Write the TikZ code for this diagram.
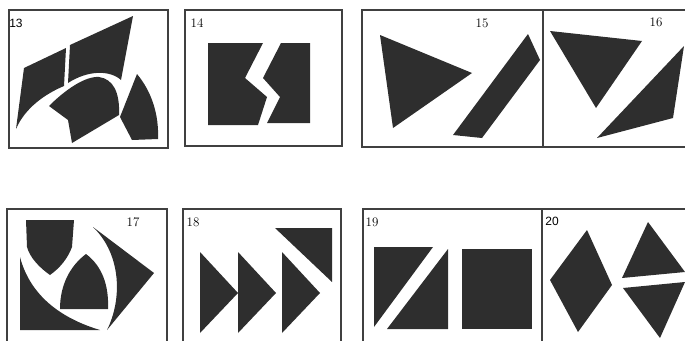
\documentclass[tikz,border=0pt]{standalone}
\usepackage{fontspec}
\newfontfamily\numsans{Liberation Sans}
\tikzset{
  frame/.style={draw=black!75, line width=1.4pt},
  piece/.style={fill=black!82},
  num/.style={inner sep=0pt, font=\fontsize{13}{13}\selectfont},
  numsf/.style={inner sep=0pt, font=\numsans\fontsize{12}{12}\selectfont}
}
\begin{document}
\begin{tikzpicture}[x=1pt, y=-1pt]
    \useasboundingbox (0,0) rectangle (685,340);
    \clip (0,0) rectangle (685,340);

    % 1. Rahmen oben und unten
    \draw[frame] (9,10) rectangle (168,148);
    \draw[frame] (185,10) rectangle (342,146);
    \draw[frame] (362,10) rectangle (700,147);
    \draw[frame] (543,10) -- (543,147);
    \draw[frame] (7,209) rectangle (167,350);
    \draw[frame] (183,209) rectangle (341,350);
    \draw[frame] (363,209) rectangle (700,350);
    \draw[frame] (542,209) -- (542,350);

    % 2. Nummern
    \node[numsf] (l13) at (16,23) {13};
    \node[num] (l14) at (197,23) {14};
    \node[num] (l15) at (482,23) {15};
    \node[num] (l16) at (656,22) {16};
    \node[num] (l17) at (133,222) {17};
    \node[num] (l18) at (193,222) {18};
    \node[num] (l19) at (372,222) {19};
    \node[numsf] (l20) at (552,221) {20};

    % 3. Figur 13 (Bogen schneidet die Teile)
    \fill[piece] (24,68) -- (66,48) -- (64,86)
        .. controls (45,94) and (25,108) .. (16,129) -- cycle;
    \fill[piece] (70,45) -- (133,16) -- (121,80)
        .. controls (110,70) and (88,70) .. (68,83) -- cycle;
    \fill[piece] (49,106) .. controls (65,90) and (85,76) .. (99,77)
        .. controls (113,79) and (120,92) .. (119,115)
        -- (72,143) -- (68,120) -- cycle;
    \fill[piece] (137,74) .. controls (152,92) and (159,115) .. (158,139)
        -- (132,140) -- (120,117) -- cycle;

    % 4. Figur 14 (Quadrat mit Zickzack-Spalt)
    \fill[piece] (208,43) -- (263,43) -- (245,78) -- (267,97)
        -- (258,125) -- (208,125) -- cycle;
    \fill[piece] (281,43) -- (310,43) -- (310,123) -- (267,123)
        -- (280,97) -- (263,78) -- cycle;

    % 5. Figur 15
    \fill[piece] (380,35) -- (472,73) -- (393,128) -- cycle;
    \fill[piece] (528,34) -- (540,60) -- (482,138) -- (453,135) -- cycle;

    % 6. Figur 16
    \fill[piece] (550,31) -- (642,41) -- (596,108) -- cycle;
    \fill[piece] (684,46) -- (673,118) -- (597,138) -- cycle;

    % 7. Figur 17
    \fill[piece] (26,220) -- (74,220) -- (72,247)
        .. controls (68,258) and (60,268) .. (50,275)
        .. controls (40,268) and (30,258) .. (27,247) -- cycle;
    \fill[piece] (60,309) -- (108,309)
        .. controls (109,285) and (102,266) .. (86,254)
        .. controls (70,266) and (60,285) .. (60,309) -- cycle;
    \fill[piece] (20,257) .. controls (30,295) and (60,318) .. (100,330)
        -- (20,330) -- cycle;
    \fill[piece] (93,227) -- (154,273) -- (107,330)
        .. controls (122,300) and (122,255) .. (93,227) -- cycle;

    % 8. Figur 18 (drei Pfeile und Ecke)
    \foreach \dx in {0,38,82} {
        \fill[piece] (200+\dx,252) -- (238+\dx,293) -- (200+\dx,333) -- cycle;
    }
    \fill[piece] (275,228) -- (332,228) -- (332,282) -- cycle;

    % 9. Figur 19
    \fill[piece] (374,247) -- (433,247) -- (374,327) -- cycle;
    \fill[piece] (448,249) -- (448,329) -- (387,329) -- cycle;
    \fill[piece] (462,249) rectangle (532,329);

    % 10. Figur 20
    \fill[piece] (587,230) -- (612,285) -- (578,332) -- (550,280) -- cycle;
    \fill[piece] (648,222) -- (685,272) -- (622,278) -- cycle;
    \fill[piece] (623,288) -- (685,282) -- (660,338) -- cycle;
\end{tikzpicture}
\end{document}
